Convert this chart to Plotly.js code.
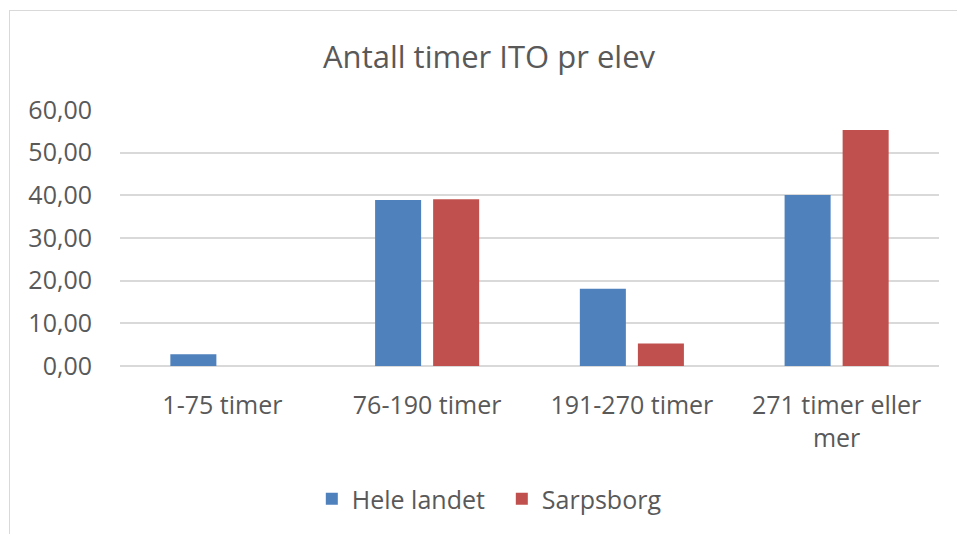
<!DOCTYPE html>
<html>
<head>
<meta charset="utf-8">
<script src="https://cdn.plot.ly/plotly-3.0.1.min.js"></script>
<style>
  html, body { margin: 0; padding: 0; background: #ffffff; }
  #chart { position: absolute; left: 0; top: 0; width: 957px; height: 534px; }
  #frame { position: absolute; left: 9px; top: 10px; width: 960px; height: 540px;
           border-left: 1.5px solid #d9d9d9; border-top: 1.5px solid #d9d9d9;
           pointer-events: none; z-index: 5; }
</style>
</head>
<body>
<div id="chart"></div>
<div id="frame"></div>
<script>
const categories = ["1-75 timer", "76-190 timer", "191-270 timer", "271 timer eller<br>mer"];
const heleLandet = [2.75, 38.9, 18.1, 40.05];
const sarpsborg = [0, 39.1, 5.3, 55.3];
const yTicks = [0, 10, 20, 30, 40, 50, 60];

const font = "Open Sans, sans-serif";
const textColor = "#595959";

const traces = [
  { type: "bar", name: "Hele landet", x: categories, y: heleLandet,
    marker: { color: "#4f81bd", line: { width: 0 } }, hoverinfo: "x+y" },
  { type: "bar", name: "Sarpsborg", x: categories, y: sarpsborg,
    marker: { color: "#c0504d", line: { width: 0 } }, hoverinfo: "x+y" }
];

const layout = {
  width: 957, height: 534,
  margin: { l: 120, r: 18, t: 110, b: 168 },
  paper_bgcolor: "#ffffff", plot_bgcolor: "#ffffff",
  separators: ",.",
  font: { family: font, color: textColor, size: 25 },
  title: { text: "Antall timer ITO pr elev", font: { family: font, size: 31, color: textColor },
           x: 0.511, xanchor: "center", y: 1 - 57 / 534, yanchor: "middle", yref: "container" },
  barmode: "group", bargap: 0.433, bargroupgap: 0.207,
  xaxis: { type: "category", showgrid: false, showline: false, ticks: "",
           tickfont: { family: font, size: 25, color: textColor }, ticklabelstandoff: 22 },
  yaxis: { range: [0, 60], tickvals: yTicks, tickformat: ".2f", showgrid: true,
           gridcolor: "#d9d9d9", gridwidth: 1.5, zeroline: true, zerolinecolor: "#d9d9d9", zerolinewidth: 1.5,
           showline: false, ticks: "", tickfont: { family: font, size: 25, color: textColor },
           ticklabelstandoff: 27, fixedrange: true },
  showlegend: true,
  legend: { orientation: "h", x: 0.2342, xanchor: "left", yref: "container", y: 1 - 499 / 534, yanchor: "middle",
            entrywidth: 145, entrywidthmode: "pixels",
            font: { family: font, size: 25, color: textColor }, itemclick: false, itemdoubleclick: false }
};

Plotly.newPlot("chart", traces, layout, { displayModeBar: false, staticPlot: false });
</script>
</body>
</html>
